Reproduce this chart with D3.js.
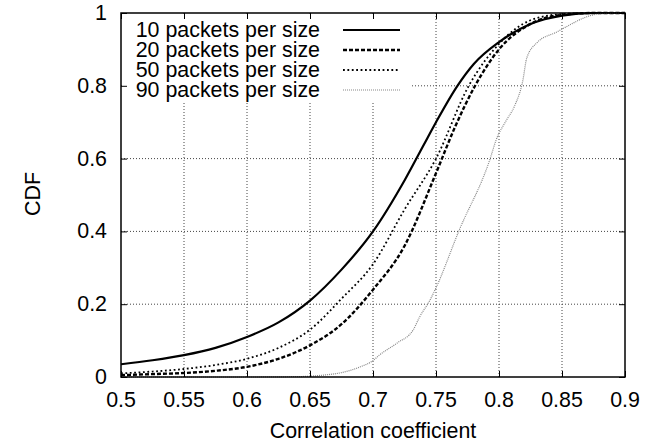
<!DOCTYPE html>
<html>
<head>
<meta charset="utf-8">
<script src="https://cdn.jsdelivr.net/npm/d3@7"></script>
<style>
  body { margin: 0; background: #fff; }
  svg text { font-family: "Liberation Sans", Arial, sans-serif; fill: #000; }
</style>
</head>
<body>
<div id="chart"></div>
<script>
// series labels
var seriesNames = ["10 packets per size", "20 packets per size", "50 packets per size", "90 packets per size"];

// correlation coefficient / CDF pairs
var x10 = [0.5, 0.525, 0.55, 0.575, 0.6, 0.625, 0.65, 0.675, 0.7, 0.725, 0.74, 0.75, 0.767, 0.78, 0.8, 0.825, 0.85, 0.875, 0.9];
var cdf10 = [0.035, 0.046, 0.06, 0.08, 0.11, 0.15, 0.21, 0.295, 0.40, 0.54, 0.636, 0.70, 0.80, 0.86, 0.92, 0.97, 0.993, 1.0, 1.0];

var x20 = [0.5, 0.525, 0.55, 0.575, 0.6, 0.625, 0.65, 0.675, 0.7, 0.725, 0.75, 0.765, 0.781, 0.8, 0.825, 0.85, 0.875, 0.9];
var cdf20 = [0.005, 0.008, 0.011, 0.017, 0.028, 0.05, 0.087, 0.145, 0.24, 0.36, 0.56, 0.686, 0.80, 0.90, 0.97, 0.995, 1.0, 1.0];

var x50 = [0.5, 0.525, 0.55, 0.575, 0.6, 0.625, 0.65, 0.675, 0.7, 0.725, 0.75, 0.776, 0.8, 0.825, 0.85, 0.875, 0.9];
var cdf50 = [0.01, 0.015, 0.022, 0.033, 0.05, 0.08, 0.13, 0.215, 0.31, 0.46, 0.60, 0.80, 0.915, 0.98, 0.997, 1.0, 1.0];

var x90 = [0.5, 0.6, 0.64, 0.66, 0.675, 0.69, 0.7, 0.705, 0.719, 0.732, 0.737, 0.745, 0.75, 0.768, 0.793, 0.7976, 0.806, 0.812, 0.819, 0.822, 0.83, 0.846, 0.856, 0.867, 0.88, 0.9];
var cdf90 = [0, 0, 0.001, 0.005, 0.012, 0.028, 0.045, 0.06, 0.093, 0.13, 0.165, 0.21, 0.245, 0.40, 0.60, 0.65, 0.706, 0.742, 0.816, 0.876, 0.918, 0.948, 0.967, 0.986, 0.998, 1.0];

var xTicks = [0.5, 0.55, 0.6, 0.65, 0.7, 0.75, 0.8, 0.85, 0.9];
var yTicks = [0, 0.2, 0.4, 0.6, 0.8, 1];

var W = 648, H = 444;
var margin = {top: 13, right: 23, bottom: 67, left: 121};
var width = W - margin.left - margin.right;
var height = H - margin.top - margin.bottom;

var svg = d3.select("#chart").append("svg")
  .attr("width", W)
  .attr("height", H);

var g = svg.append("g")
  .attr("transform", "translate(" + margin.left + "," + margin.top + ")");

var x = d3.scaleLinear().domain([0.5, 0.9]).range([0, width]);
var y = d3.scaleLinear().domain([0, 1]).range([height, 0]);

var fs = "21.4px";

// grid
g.append("g").selectAll("line")
  .data(xTicks.slice(1, -1))
  .enter().append("line")
    .attr("x1", function(d) { return x(d); })
    .attr("x2", function(d) { return x(d); })
    .attr("y1", 0).attr("y2", height)
    .attr("stroke", "#444").attr("stroke-width", 1)
    .attr("stroke-dasharray", "1,2");
g.append("g").selectAll("line")
  .data(yTicks.slice(1, -1))
  .enter().append("line")
    .attr("x1", 0).attr("x2", width)
    .attr("y1", function(d) { return y(d); })
    .attr("y2", function(d) { return y(d); })
    .attr("stroke", "#444").attr("stroke-width", 1)
    .attr("stroke-dasharray", "1,2");

// legend box hides the grid behind it
g.append("rect")
  .attr("x", 1).attr("y", 1)
  .attr("width", 290).attr("height", 89)
  .attr("fill", "#fff");

// curves
var styles = [
  {w: 2.2, dash: null, color: "#000"},
  {w: 2.4, dash: "4,2", color: "#000"},
  {w: 1.8, dash: "1.8,2.6", color: "#000"},
  {w: 1.2, dash: "1,1", color: "#888"}
];
var allX = [x10, x20, x50, x90];
var allY = [cdf10, cdf20, cdf50, cdf90];

var line = d3.line()
  .x(function(d) { return x(d[0]); })
  .y(function(d) { return y(d[1]); })
  .curve(d3.curveMonotoneX);

allX.forEach(function(xs, i) {
  var pts = xs.map(function(v, j) { return [v, allY[i][j]]; });
  g.append("path")
    .datum(pts)
    .attr("d", line)
    .attr("fill", "none")
    .attr("stroke", styles[i].color)
    .attr("stroke-width", styles[i].w)
    .attr("stroke-dasharray", styles[i].dash);
});

// legend
seriesNames.forEach(function(name, i) {
  var yy = 17 + i * 20;
  g.append("text")
    .attr("x", 199).attr("y", yy + 7)
    .attr("text-anchor", "end")
    .style("font-size", fs)
    .text(name);
  g.append("line")
    .attr("x1", 222).attr("x2", 279)
    .attr("y1", yy).attr("y2", yy)
    .attr("stroke", styles[i].color)
    .attr("stroke-width", styles[i].w)
    .attr("stroke-dasharray", styles[i].dash);
});

// frame
g.append("rect")
  .attr("width", width).attr("height", height)
  .attr("fill", "none").attr("stroke", "#000").attr("stroke-width", 1.5);

// ticks (inward, mirrored)
var tk = 6;
g.append("g").call(d3.axisBottom(x).tickValues(xTicks).tickSize(-tk).tickSizeOuter(0).tickFormat(""))
  .attr("transform", "translate(0," + height + ")")
  .call(function(s) { s.select(".domain").remove(); });
g.append("g").call(d3.axisTop(x).tickValues(xTicks).tickSize(-tk).tickSizeOuter(0).tickFormat(""))
  .call(function(s) { s.select(".domain").remove(); });
g.append("g").call(d3.axisLeft(y).tickValues(yTicks).tickSize(-tk).tickSizeOuter(0).tickFormat(""))
  .call(function(s) { s.select(".domain").remove(); });
g.append("g").call(d3.axisRight(y).tickValues(yTicks).tickSize(-tk).tickSizeOuter(0).tickFormat(""))
  .attr("transform", "translate(" + width + ",0)")
  .call(function(s) { s.select(".domain").remove(); });
g.selectAll(".tick line").attr("stroke", "#000").attr("stroke-width", 1);

// tick labels
g.append("g").selectAll("text")
  .data(xTicks)
  .enter().append("text")
    .attr("x", function(d) { return x(d); })
    .attr("y", height + 30)
    .attr("text-anchor", "middle")
    .style("font-size", fs)
    .text(function(d) { return d3.format("")(d); });
g.append("g").selectAll("text")
  .data(yTicks)
  .enter().append("text")
    .attr("x", -14)
    .attr("y", function(d) { return y(d) + 7; })
    .attr("text-anchor", "end")
    .style("font-size", fs)
    .text(function(d) { return d3.format("")(d); });

// axis titles
svg.append("text")
  .attr("x", margin.left + width / 2)
  .attr("y", 438)
  .attr("text-anchor", "middle")
  .style("font-size", fs)
  .text("Correlation coefficient");
svg.append("text")
  .attr("transform", "translate(40,194) rotate(-90)")
  .attr("text-anchor", "middle")
  .style("font-size", fs)
  .text("CDF");
</script>
</body>
</html>
